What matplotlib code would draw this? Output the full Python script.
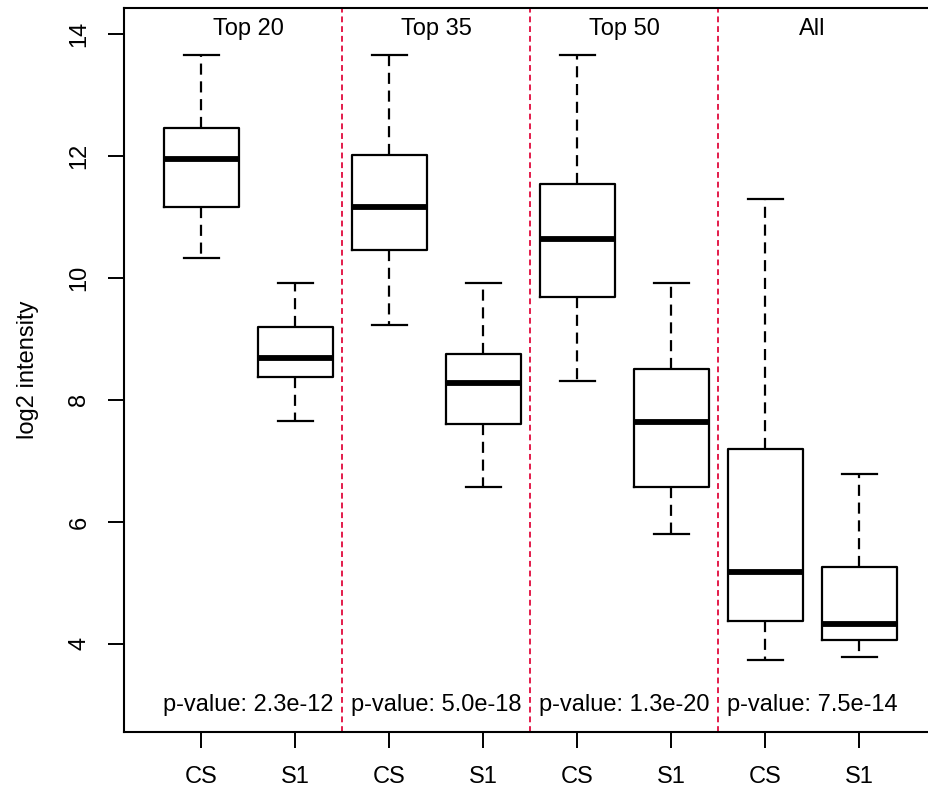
import matplotlib
matplotlib.use('Agg')
import matplotlib.pyplot as plt

plt.rcParams['font.family'] = ['Liberation Sans', 'DejaVu Sans']

# Box statistics (log2 intensity)
groups = ['Top 20', 'Top 35', 'Top 50', 'All']
samples = ['CS', 'S1', 'CS', 'S1', 'CS', 'S1', 'CS', 'S1']
whisker_lo = [10.33, 7.66, 9.22, 6.58, 8.31, 5.80, 3.73, 3.79]
q1 = [11.16, 8.38, 10.46, 7.60, 9.68, 6.58, 4.37, 4.07]
median = [11.95, 8.69, 11.16, 8.28, 10.63, 7.64, 5.18, 4.33]
q3 = [12.46, 9.19, 12.02, 8.75, 11.54, 8.50, 7.19, 5.26]
whisker_hi = [13.66, 9.91, 13.66, 9.91, 13.66, 9.91, 11.30, 6.78]
pvalues = ['2.3e-12', '5.0e-18', '1.3e-20', '7.5e-14']

fs = 17

fig = plt.figure(figsize=(9.29, 7.93), dpi=100)
ax = fig.add_axes([0.1338, 0.0773, 0.8743, 0.9122])

stats = []
for i in range(len(samples)):
    stats.append({'whislo': whisker_lo[i], 'q1': q1[i], 'med': median[i],
                  'q3': q3[i], 'whishi': whisker_hi[i], 'fliers': []})

pos = list(range(1, len(samples) + 1))
ax.bxp(stats, positions=pos, widths=0.8, showfliers=False,
       boxprops=dict(color='black', linewidth=1.6),
       medianprops=dict(color='black', linewidth=4.2, solid_capstyle='butt'),
       whiskerprops=dict(color='black', linewidth=1.6, linestyle=(0, (5, 3))),
       capprops=dict(color='black', linewidth=1.6),
       capwidths=0.37)

# group separators
for k in range(1, len(groups)):
    ax.axvline(2 * k + 0.5, color='#e31b4a', linewidth=1.4, linestyle=(0, (3, 2)))

for k, g in enumerate(groups):
    ax.text(2 * k + 1.5, 14.08, g, ha='center', va='center', fontsize=fs)
    ax.text(2 * k + 1.5, 3.0, 'p-value: ' + pvalues[k], ha='center', va='center', fontsize=fs)

ax.set_xlim(0.18, 8.82)
ax.set_ylim(2.56, 14.42)
ax.set_xticks(pos)
ax.set_xticklabels(samples, fontsize=fs)
ax.set_yticks([4, 6, 8, 10, 12, 14])
ax.set_yticklabels(['4', '6', '8', '10', '12', '14'], fontsize=fs, rotation=90, va='center')
ax.tick_params(axis='both', length=11.5, width=1.4, direction='out')
ax.tick_params(axis='x', pad=13)
ax.tick_params(axis='y', pad=13)
ax.set_ylabel('log2 intensity', fontsize=fs, labelpad=21)
for s in ax.spines.values():
    s.set_linewidth(1.5)

fig.savefig('out.png', dpi=100)
